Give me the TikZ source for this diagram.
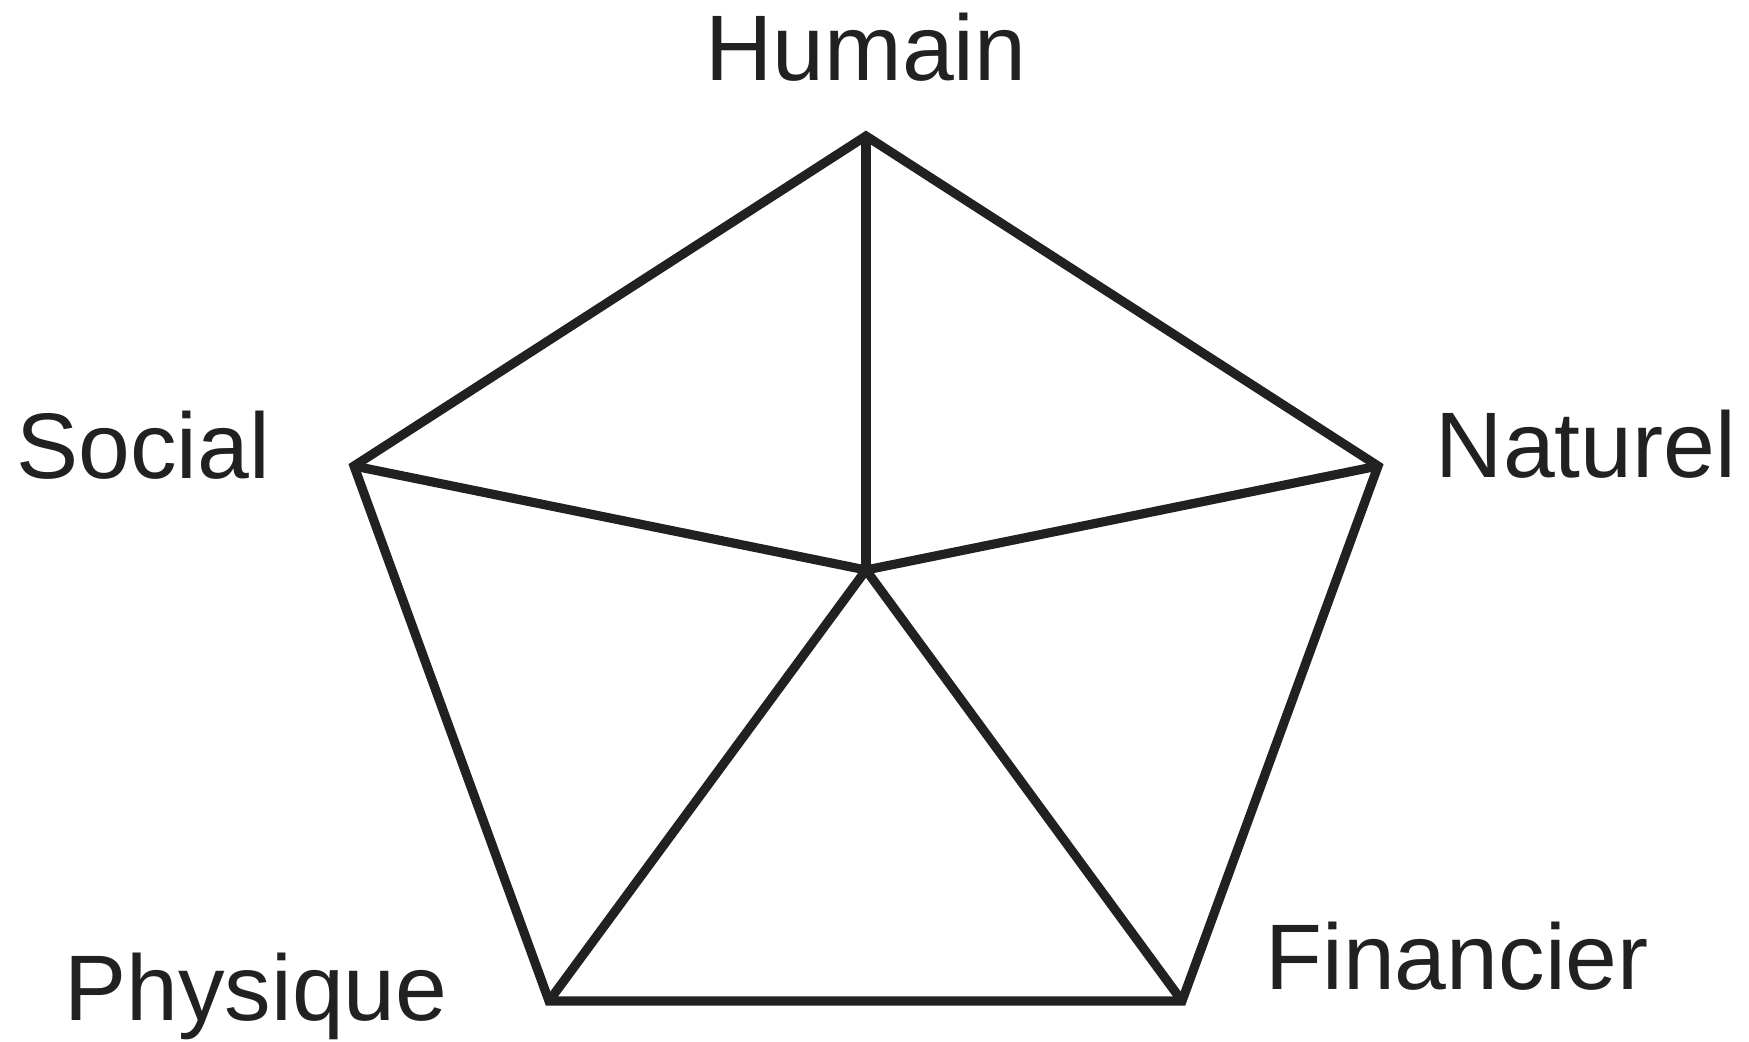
\documentclass[tikz,border=0pt]{standalone}
\usepackage{fontspec}
\setmainfont{Liberation Sans}
\usepackage{xcolor}
\usepackage{tikz}
\usetikzlibrary{
  positioning,
  calc
}
\definecolor{inkdark}{RGB}{35, 33, 32}

\begin{document}
\begin{tikzpicture}[x=0.1mm, y=-0.1mm, line width=2.6pt, inkdark,
  capital/.style={font=\fontsize{26.5}{32}\selectfont, anchor=base, inner sep=0pt, text=inkdark}]
  \useasboundingbox (0,0) rectangle (1749,1041);
  % sommets du pentagone
  \coordinate (hum) at (866, 136);
  \coordinate (soc) at (354, 466);
  \coordinate (nat) at (1378, 466);
  \coordinate (phy) at (549, 1001);
  \coordinate (fin) at (1182, 1001);
  \coordinate (mid) at (866, 570);
  % etiquettes
  \node[capital] (lhum) at (866, 80) {Humain};
  \node[capital] (lsoc) at (143, 478) {Social};
  \node[capital] (lnat) at (1586, 477) {Naturel};
  \node[capital] (lphy) at (256, 1020) {Physique};
  \node[capital] (lfin) at (1457, 989) {Financier};
  % contour et rayons
  \draw (hum) -- (nat) -- (fin) -- (phy) -- (soc) -- cycle;
  \foreach \v in {hum, nat, fin, phy, soc}
    \draw (mid) -- (\v);
\end{tikzpicture}
\end{document}
